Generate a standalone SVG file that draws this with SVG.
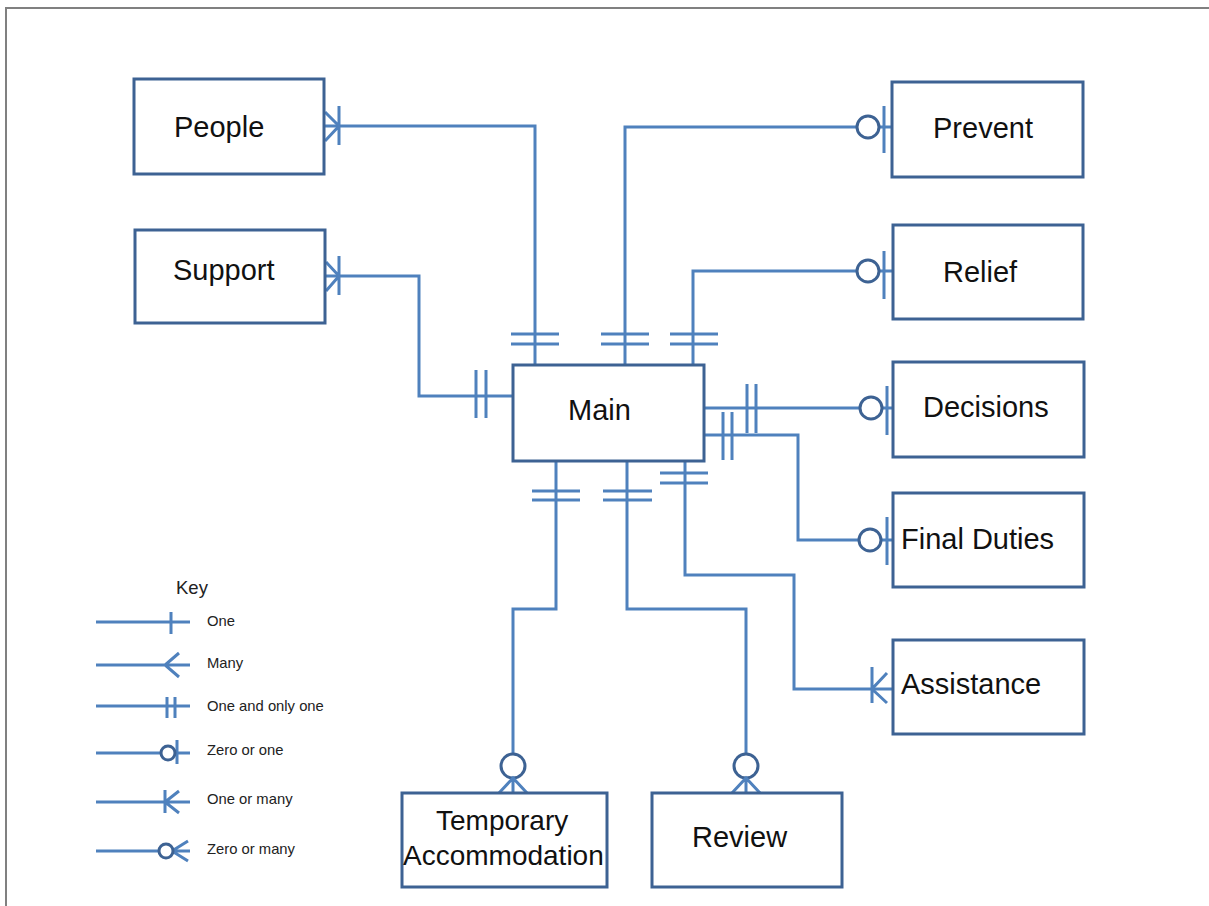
<svg xmlns="http://www.w3.org/2000/svg" width="1209" height="906" viewBox="0 0 1209 906">
<style>
.ent{fill:#fff;stroke:#3d6293;stroke-width:3}
.lbl{font-family:"Liberation Sans",Arial,sans-serif;font-size:29px;fill:#111}
.sm{font-size:28px}
.c{fill:none;stroke:#4f81bd;stroke-width:3}
.o{fill:#fff;stroke:#3d6293;stroke-width:3}
.k{font-family:"Liberation Sans",Arial,sans-serif;font-size:14.8px;fill:#222}
</style>
<rect width="1209" height="906" fill="#fff"/>
<path d="M6,906 V8 H1209" fill="none" stroke="#808080" stroke-width="2"/>

<g id="connectors">
  <!-- People -->
  <path class="c" d="M325,126 H535 V365"/>
  <path class="c" d="M339,106 V145 M325,112 L339,126 L325,141"/>
  <path class="c" d="M511,334 H559 M511,344 H559"/>
  <!-- Support -->
  <path class="c" d="M326,276 H419 V396 H513"/>
  <path class="c" d="M339,256 V295 M326,262 L339,276 L326,291"/>
  <path class="c" d="M476,370 V418 M486,370 V418"/>
  <!-- Prevent -->
  <path class="c" d="M625,365 V127 H892"/>
  <path class="c" d="M601,334 H649 M601,344 H649"/>
  <circle class="o" cx="868" cy="127" r="11"/>
  <path class="c" d="M884,106 V153"/>
  <!-- Relief -->
  <path class="c" d="M693,365 V271 H892"/>
  <path class="c" d="M670,334 H718 M670,344 H718"/>
  <circle class="o" cx="868" cy="271" r="11"/>
  <path class="c" d="M884,251 V299"/>
  <!-- Decisions -->
  <path class="c" d="M704,408 H892"/>
  <path class="c" d="M747,384 V433 M756,384 V433"/>
  <circle class="o" cx="871" cy="408" r="11"/>
  <path class="c" d="M887,386 V435"/>
  <!-- Final Duties -->
  <path class="c" d="M704,435 H798 V540 H892"/>
  <path class="c" d="M723,412 V460 M732,412 V460"/>
  <circle class="o" cx="870" cy="540" r="11"/>
  <path class="c" d="M887,517 V565"/>
  <!-- Assistance -->
  <path class="c" d="M685,461 V575 H794 V689 H893"/>
  <path class="c" d="M660,473 H708 M660,483 H708"/>
  <path class="c" d="M872,667 V703 M887,673 L872,689 L887,703"/>
  <!-- Temporary Accommodation -->
  <path class="c" d="M556,461 V609 H513 V754"/>
  <path class="c" d="M532,491 H580 M532,500 H580"/>
  <circle class="o" cx="513" cy="766" r="12"/>
  <path class="c" d="M513,778 V793 M499,793 L513,778 L527,793"/>
  <!-- Review -->
  <path class="c" d="M627,461 V609 H746 V754"/>
  <path class="c" d="M603,491 H652 M603,500 H652"/>
  <circle class="o" cx="746" cy="766" r="12"/>
  <path class="c" d="M746,778 V793 M732,793 L746,778 L760,793"/>
</g>

<g id="people"><rect class="ent" x="134" y="79" width="190" height="95"/><text class="lbl" x="174" y="137">People</text></g>
<g id="support"><rect class="ent" x="135" y="230" width="190" height="93"/><text class="lbl" x="173" y="280">Support</text></g>
<g id="main"><rect class="ent" x="513" y="365" width="191" height="96"/><text class="lbl" x="568" y="420">Main</text></g>
<g id="prevent"><rect class="ent" x="892" y="82" width="191" height="95"/><text class="lbl" x="933" y="138">Prevent</text></g>
<g id="relief"><rect class="ent" x="893" y="225" width="190" height="94"/><text class="lbl" x="943" y="282">Relief</text></g>
<g id="decisions"><rect class="ent" x="893" y="362" width="191" height="95"/><text class="lbl" x="923" y="417">Decisions</text></g>
<g id="final-duties"><rect class="ent" x="893" y="493" width="191" height="94"/><text class="lbl" x="901" y="549">Final Duties</text></g>
<g id="assistance"><rect class="ent" x="893" y="640" width="191" height="94"/><text class="lbl" x="901" y="694">Assistance</text></g>
<g id="temporary-accommodation"><rect class="ent" x="402" y="793" width="205" height="94"/><text class="lbl sm" x="436" y="830">Temporary</text><text class="lbl sm" x="403" y="865">Accommodation</text></g>
<g id="review"><rect class="ent" x="652" y="793" width="190" height="94"/><text class="lbl" x="692" y="847">Review</text></g>

<g id="key">
  <text class="k" x="176" y="594" style="font-size:18.5px">Key</text>
  <path class="c" d="M96,622 H190 M171,612 V634"/>
  <text class="k" x="207" y="626">One</text>
  <path class="c" d="M96,665 H190 M179,653 L165,665 L179,677"/>
  <text class="k" x="207" y="668">Many</text>
  <path class="c" d="M96,706 H190 M167,697 V718 M175,697 V718"/>
  <text class="k" x="207" y="711">One and only one</text>
  <path class="c" d="M96,753 H190 M177,740 V764"/>
  <circle class="o" cx="168" cy="753" r="7"/>
  <text class="k" x="207" y="755">Zero or one</text>
  <path class="c" d="M96,802 H190 M165,790 V813 M179,791 L165,802 L179,813"/>
  <text class="k" x="207" y="804">One or many</text>
  <path class="c" d="M96,851 H190 M188,841 L172,851 L188,861"/>
  <circle class="o" cx="166" cy="851" r="7"/>
  <text class="k" x="207" y="854">Zero or many</text>
</g>
</svg>
